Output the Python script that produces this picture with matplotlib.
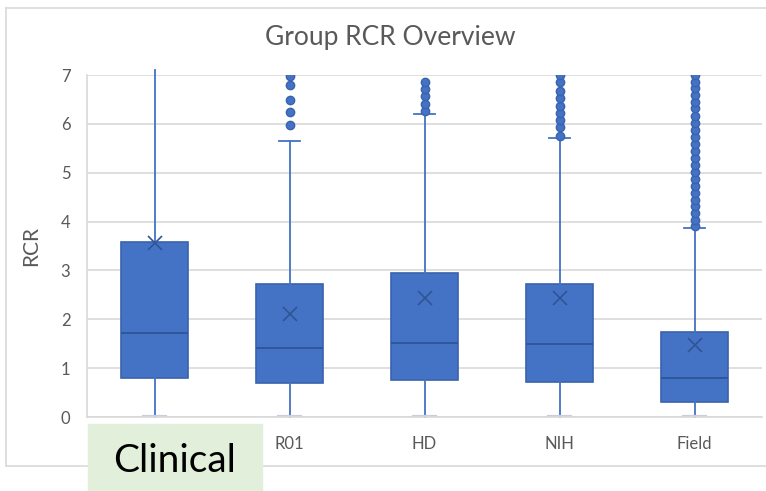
import matplotlib.pyplot as plt
from matplotlib.patches import Rectangle
from matplotlib.lines import Line2D

groups = ["Clinical", "R01", "HD", "NIH", "Field"]
q1 = [0.80, 0.70, 0.76, 0.72, 0.31]
median = [1.72, 1.41, 1.51, 1.49, 0.80]
q3 = [3.58, 2.72, 2.95, 2.73, 1.74]
mean = [3.56, 2.11, 2.44, 2.44, 1.47]
whisker_lo = [0.0, 0.0, 0.0, 0.0, 0.0]
whisker_hi = [7.1, 5.65, 6.21, 5.72, 3.87]
outliers = [
    [],
    [5.97, 6.25, 6.48, 6.79, 6.98],
    [6.27, 6.41, 6.56, 6.71, 6.86],
    [5.76, 5.94, 6.08, 6.23, 6.37, 6.52, 6.68, 6.86, 7.0],
    [3.90, 4.03, 4.17, 4.31, 4.45, 4.59, 4.73, 4.88, 5.02, 5.16, 5.31, 5.44,
     5.59, 5.74, 5.87, 6.02, 6.17, 6.32, 6.45, 6.59, 6.73, 6.86, 7.0],
]

plt.rcParams['font.family'] = ['Lato', 'DejaVu Sans']
gray = "#595959"
blue = "#4472C4"

stats = []
for i, g in enumerate(groups):
    stats.append(dict(label=g, q1=q1[i], med=median[i], q3=q3[i], mean=mean[i],
                      whislo=whisker_lo[i], whishi=whisker_hi[i], fliers=outliers[i]))

fig = plt.figure(figsize=(7.66, 4.91), dpi=100)
ax = fig.add_axes([87 / 766, 1 - 417 / 491, 675 / 766, 342 / 491])

bp = ax.bxp(stats, positions=range(len(groups)), widths=0.5, patch_artist=True,
            showmeans=True,
            boxprops=dict(facecolor=blue, edgecolor="#3a63ad", linewidth=1.2),
            medianprops=dict(color="#2f5597", linewidth=1.3),
            whiskerprops=dict(color=blue, linewidth=1.3),
            capprops=dict(color=blue, linewidth=1.3),
            capwidths=0.15,
            meanprops=dict(marker="x", markersize=10, markeredgecolor="#2f5597",
                           markeredgewidth=1.2),
            flierprops=dict(marker="o", markersize=6, markerfacecolor=blue,
                            markeredgecolor="#3a63ad", linestyle="none"))
for w in bp["whiskers"]:
    w.set_clip_on(False)
# lower caps sit on the axis line and look gray
for c in bp["caps"][0::2]:
    c.set_color("#c8cedf")
    c.set_linewidth(3)
# clinical whisker runs past the top, no cap visible
bp["caps"][1].set_visible(False)

ax.set_xlim(-0.5, 4.5)
ax.set_ylim(0, 7)
ax.set_yticks(range(0, 8))
ax.yaxis.grid(True, color="#d9d9d9", linewidth=1.2)
ax.set_axisbelow(True)
for s in ["top", "right"]:
    ax.spines[s].set_visible(False)
for s in ["left", "bottom"]:
    ax.spines[s].set_color("#d9d9d9")
    ax.spines[s].set_linewidth(1.2)
ax.tick_params(length=0, colors=gray, labelsize=12)
ax.tick_params(axis="y", pad=12)
ax.tick_params(axis="x", pad=14)
ax.set_xticks(range(len(groups)))
# first label is covered by the green patch below, drawn there instead
ax.set_xticklabels([""] + groups[1:])
ax.set_ylabel("RCR", color=gray, fontsize=15, labelpad=14)

fig.text(390 / 766, 1 - 38 / 491, "Group RCR Overview", ha="center", va="center",
         color=gray, fontsize=19)

# outer chart frame
fig.add_artist(Line2D([6 / 766, 1], [1 - 8 / 491] * 2, color="#d9d9d9", lw=1.2))
fig.add_artist(Line2D([6 / 766] * 2, [1 - 8 / 491, 1 - 466 / 491], color="#d9d9d9", lw=1.2))
fig.add_artist(Line2D([6 / 766, 1], [1 - 466 / 491] * 2, color="#d9d9d9", lw=1.2))

# green label patch over first category
fig.add_artist(Rectangle((88 / 766, 0), 174 / 766, 67 / 491, color="#e2efda",
                         transform=fig.transFigure, zorder=5))
fig.text(175 / 766, 1 - 461 / 491, groups[0], ha="center", va="center",
         fontsize=28, color="black", zorder=6)

fig.savefig("out.png", dpi=100)
